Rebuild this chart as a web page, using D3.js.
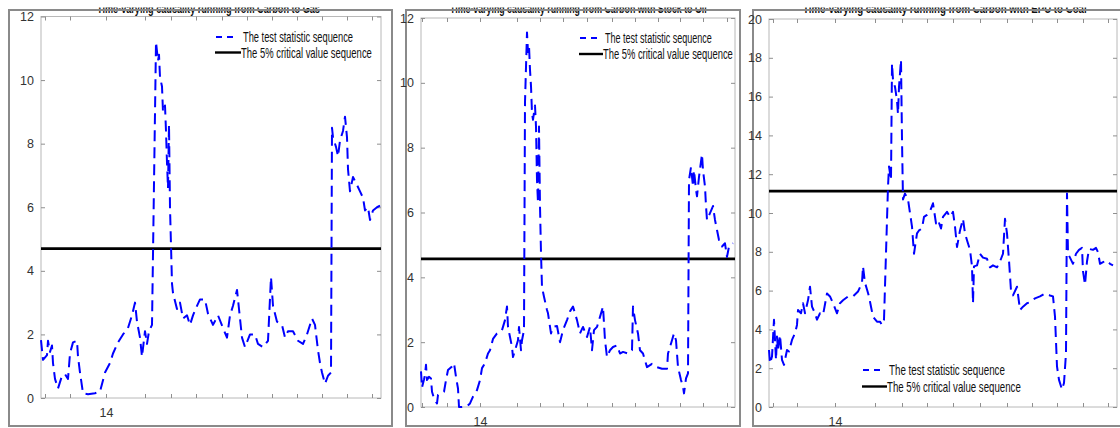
<!DOCTYPE html>
<html>
<head>
<meta charset="utf-8">
<script src="https://cdn.jsdelivr.net/npm/d3@7"></script>
<style>
  body { margin: 0; background: #fff; }
  svg { display: block; }
  text { font-family: "Liberation Sans Narrow", "Arial Narrow", "Liberation Sans", Arial, sans-serif; }
</style>
</head>
<body>
<svg id="chart" width="1120" height="428"></svg>
<script>
// ---- Test statistic sequences: [observation, statistic] ----
const statCarbonGas = [
  [0,1.82],[2,1.2],[6,1.35],[7,1.8],[9,1.45],[11,1.65],[12,1.1],[14,0.6],[17,0.3],[21,0.7],
  [24,0.75],[27,0.6],[29,1.4],[32,1.75],[36,1.8],[37,1.3],[39,0.8],[42,0.15],[47,0.12],[54,0.15],
  [59,0.2],[64,0.8],[69,1.1],[72,1.4],[77,1.75],[82,2.0],[87,2.2],[91,2.6],[94,3.0],[96,2.4],
  [99,1.9],[101,1.3],[104,2.1],[106,1.7],[108,2.1],[111,2.3],[115,11.2],[117,10.6],[118,10.8],[119,10.1],
  [121,9.8],[122,9.0],[124,9.2],[125,8.4],[126,7.4],[127,6.6],[128,8.6],[129,6.0],[131,3.6],[132,3.3],
  [136,2.8],[139,3.0],[142,2.5],[146,2.6],[149,2.3],[152,2.6],[156,2.9],[159,3.1],[164,3.1],[167,2.65],
  [172,2.3],[177,2.6],[182,2.2],[186,1.9],[189,2.6],[192,2.9],[196,3.4],[198,2.8],[201,1.9],[204,1.6],
  [209,2.0],[214,2.0],[217,1.7],[222,1.6],[227,1.8],[230,3.8],[232,2.9],[236,2.4],[241,2.3],[244,1.9],
  [247,2.1],[252,2.1],[257,1.8],[262,1.7],[266,2.0],[271,2.5],[274,2.3],[277,1.5],[279,1.1],[281,0.8],
  [284,0.45],[287,0.7],[290,0.8],[291,8.5],[292,8.2],[295,7.9],[297,7.6],[299,8.1],[302,8.4],[304,8.85],
  [306,8.2],[307,7.2],[309,6.5],[312,6.95],[316,6.7],[319,6.5],[322,6.3],[324,5.9],[327,6.0],[329,5.6],
  [332,5.9],[336,6.0],[339,6.05]
];
const statCarbonOil = [
  [0,1.1],[1,0.6],[3,0.85],[4,1.0],[5,1.3],[6,0.83],[8,0.93],[10,0.88],[11,0.47],[13,0.27],
  [16,0.11],[17,0.37],[21,0.42],[23,0.47],[25,0.83],[27,1.14],[31,1.25],[33,1.35],[35,0.93],[37,0.57],
  [38,0.0],[41,0.0],[46,0.02],[49,0.11],[52,0.32],[56,0.52],[59,0.83],[61,1.2],[64,1.35],[67,1.65],
  [69,1.75],[72,2.1],[76,2.27],[79,2.32],[81,2.37],[84,2.68],[86,3.1],[87,2.47],[89,2.16],[91,1.85],
  [92,1.54],[95,1.85],[97,2.06],[98,2.47],[100,1.75],[101,2.06],[103,2.37],[104,9.4],[106,11.55],[107,10.95],
  [108,11.15],[109,10.4],[110,9.9],[111,9.07],[112,8.86],[114,9.3],[115,8.65],[116,7.0],[117,6.3],[118,8.65],
  [119,6.2],[120,4.74],[121,3.7],[123,3.4],[126,2.99],[127,2.89],[130,2.27],[132,2.47],[136,2.5],[139,2.0],
  [142,2.37],[146,2.68],[149,2.95],[152,3.1],[156,2.68],[159,2.27],[162,2.47],[166,2.16],[169,2.47],[171,1.75],
  [173,2.37],[176,2.47],[179,2.78],[182,3.1],[184,2.06],[186,1.54],[189,1.75],[192,1.85],[196,1.9],[199,1.65],
  [202,1.7],[207,1.65],[211,1.75],[212,3.1],[214,2.68],[217,2.27],[219,1.75],[222,1.65],[226,1.23],[231,1.33],
  [236,1.23],[241,1.18],[246,1.18],[247,1.65],[251,2.06],[253,2.27],[255,2.06],[257,1.23],[260,0.83],[262,0.63],
  [263,0.42],[265,0.88],[267,1.04],[268,7.0],[270,7.4],[272,6.8],[273,7.3],[275,6.7],[276,6.5],[278,7.1],
  [281,7.8],[282,7.3],[284,6.8],[285,6.2],[286,5.77],[289,5.98],[292,6.2],[294,5.77],[296,5.46],[298,5.15],
  [301,4.95],[304,5.05],[306,4.63],[308,4.95],[312,5.05]
];
const statCarbonCoal = [
  [0,2.94],[1,2.25],[3,2.6],[5,4.5],[7,2.43],[8,3.63],[9,2.94],[11,3.71],[13,2.43],[15,2.17],
  [18,2.94],[20,2.86],[23,3.46],[26,3.8],[28,4.23],[29,5.0],[32,4.83],[34,5.35],[36,4.83],[39,5.5],
  [41,6.2],[43,5.17],[46,4.83],[48,4.5],[51,4.83],[54,4.74],[58,5.85],[61,5.7],[64,5.35],[68,4.83],
  [71,5.35],[74,5.5],[79,5.7],[84,5.7],[89,5.95],[93,6.4],[94,7.25],[96,6.4],[98,6.06],[100,5.7],
  [102,5.17],[104,4.66],[108,4.4],[111,4.4],[113,4.23],[115,4.5],[119,11.36],[120,12.4],[122,11.7],[123,17.7],
  [124,16.86],[126,16.5],[128,15.8],[129,15.1],[130,16.5],[132,17.9],[133,13.8],[134,10.7],[136,11.0],[139,10.7],
  [141,10.0],[143,9.3],[145,7.9],[148,8.95],[150,9.1],[153,9.2],[155,9.8],[158,9.9],[161,10.1],[164,10.5],
  [167,9.46],[169,9.64],[172,9.2],[174,9.8],[178,10.06],[181,9.8],[184,10.06],[186,9.3],[188,8.25],[191,9.1],
  [194,9.7],[196,8.95],[198,8.6],[201,8.1],[203,7.25],[204,5.35],[205,7.25],[208,7.3],[211,7.9],[214,7.7],
  [218,7.64],[221,7.2],[224,7.3],[228,7.2],[231,7.5],[234,7.9],[236,9.7],[238,8.95],[240,7.55],[242,6.0],
  [244,5.75],[248,6.2],[251,5.0],[254,5.17],[258,5.35],[261,5.4],[266,5.6],[271,5.7],[276,5.85],[281,5.75],
  [284,5.7],[286,4.66],[288,2.09],[290,1.4],[293,0.9],[295,1.24],[297,2.77],[298,11.0],[299,7.9],[301,7.7],
  [304,7.38],[307,7.9],[310,8.1],[313,8.2],[314,7.0],[316,6.3],[318,7.5],[320,8.15],[324,8.1],[327,8.2],
  [329,7.98],[331,7.38],[334,7.47],[338,7.55],[341,7.38],[344,7.3]
];

// ---- 5% critical values (constant over the sample) ----
const criticalValues = [4.7, 4.57, 11.13];

// ---- Axis ranges and ticks ----
const obsRanges = [[0, 340], [0, 314], [0, 348]];
const statMax = [12, 12, 20];
const yTicks12 = [0, 2, 4, 6, 8, 10, 12];
const yTicks20 = [0, 2, 4, 6, 8, 10, 12, 14, 16, 18, 20];
const xTicksGas  = [4, 29, 65, 104, 130, 155, 181, 206, 231, 256, 281, 306, 331];
const xTicksOil  = [1, 26, 59, 96, 119, 142, 166, 191, 214, 237, 259, 282, 306];
const xTicksCoal = [4, 28, 66, 106, 133, 158, 184, 211, 238, 263, 288, 314, 339];
const xTickLabel = "14";
const xLabelledIndex = 2;

const titles = [
  "Time-varying causality running from Carbon to Gas",
  "Time-varying causality running from Carbon with Stock to Oil",
  "Time-varying causality running from Carbon with EPU to Coal"
];
const legendLabels = ["The test statistic sequence", "The 5% critical value sequence"];

// ---- Panel geometry ----
const panels = [
  { stat: statCarbonGas,  yTicks: yTicks12, xTicks: xTicksGas,
    frame: {x0: 9, x1: 392, y0: 10, y1: 426}, plot: {l: 41, r: 381, t: 16.5, b: 398},
    title: {x: 97, w: 223},
    legend: {x: 215, y: 37, gap: 15.5, tx: 243, w: [110, 131]} },
  { stat: statCarbonOil,  yTicks: yTicks12, xTicks: xTicksOil,
    frame: {x0: 406, x1: 740, y0: 10, y1: 426}, plot: {l: 421, r: 735, t: 18, b: 407},
    title: {x: 450, w: 257},
    legend: {x: 579, y: 38, gap: 16, tx: 605, w: [107, 130]} },
  { stat: statCarbonCoal, yTicks: yTicks20, xTicks: xTicksCoal,
    frame: {x0: 753, x1: 1130, y0: 10, y1: 426}, plot: {l: 769, r: 1117, t: 19, b: 407},
    title: {x: 803, w: 284},
    legend: {x: 862, y: 370, gap: 16.5, tx: 889, w: [116, 134]} }
];

const svg = d3.select("#chart");
const defs = svg.append("defs");

// place a text at (x, y) and squeeze it horizontally to the given width
function fitText(sel, x, y, w) {
  const natural = sel.node().getComputedTextLength();
  sel.attr("x", 0).attr("y", 0)
     .attr("transform", `translate(${x},${y}) scale(${w / natural},1)`);
  return sel;
}

panels.forEach((p, i) => {
  const g = svg.append("g");
  const f = p.frame;

  // title strip: only its lower edge shows inside the figure window
  defs.append("clipPath").attr("id", "tclip" + i)
    .append("rect").attr("x", f.x0).attr("y", 7.5).attr("width", f.x1 - f.x0).attr("height", 10);
  const tg = g.append("g").attr("clip-path", `url(#tclip${i})`);
  const tt = tg.append("text")
    .attr("font-size", 12).attr("font-weight", "bold")
    .attr("fill", "#111")
    .text(titles[i]);
  fitText(tt, p.title.x, 12.5, p.title.w);

  // outer frame
  g.append("rect")
    .attr("x", f.x0).attr("y", f.y0)
    .attr("width", f.x1 - f.x0).attr("height", f.y1 - f.y0)
    .attr("fill", "none").attr("stroke", "#8a8a8a").attr("stroke-width", 2);

  const x = d3.scaleLinear().domain(obsRanges[i]).range([p.plot.l, p.plot.r]);
  const y = d3.scaleLinear().domain([0, statMax[i]]).range([p.plot.b, p.plot.t]);

  // axes box
  g.append("rect")
    .attr("x", p.plot.l).attr("y", p.plot.t)
    .attr("width", p.plot.r - p.plot.l).attr("height", p.plot.b - p.plot.t)
    .attr("fill", "none").attr("stroke", "#b8b8b8").attr("stroke-width", 1);

  const tickLen = 4;
  const styleAxis = sel => {
    sel.select(".domain").remove();
    sel.selectAll("line").attr("stroke", "#8f8f8f");
    sel.selectAll("text").attr("fill", "#333").attr("font-size", 12.5);
  };

  // y axes: labelled on the left, ticks mirrored on the right
  g.append("g").attr("transform", `translate(${p.plot.l},0)`)
    .call(d3.axisLeft(y).tickValues(p.yTicks).tickFormat(d3.format("d")).tickSize(-tickLen).tickPadding(7))
    .call(styleAxis);
  g.append("g").attr("transform", `translate(${p.plot.r},0)`)
    .call(d3.axisRight(y).tickValues(p.yTicks).tickFormat("").tickSize(-tickLen))
    .call(styleAxis);

  // x axes: one labelled tick, ticks mirrored on top
  g.append("g").attr("transform", `translate(0,${p.plot.b})`)
    .call(d3.axisBottom(x).tickValues(p.xTicks)
      .tickFormat((d, k) => k === xLabelledIndex ? xTickLabel : "")
      .tickSize(-tickLen).tickPadding(10))
    .call(styleAxis);
  g.append("g").attr("transform", `translate(0,${p.plot.t})`)
    .call(d3.axisTop(x).tickValues(p.xTicks).tickFormat("").tickSize(-tickLen))
    .call(styleAxis);

  // critical value line
  g.append("line")
    .attr("x1", x(obsRanges[i][0])).attr("x2", x(obsRanges[i][1]))
    .attr("y1", y(criticalValues[i])).attr("y2", y(criticalValues[i]))
    .attr("stroke", "#000").attr("stroke-width", 2.6);

  // test statistic sequence
  const line = d3.line().x(d => x(d[0])).y(d => y(d[1]));
  g.append("path")
    .datum(p.stat)
    .attr("d", line)
    .attr("fill", "none")
    .attr("stroke", "#0000ff")
    .attr("stroke-width", 2)
    .attr("stroke-dasharray", "11,6")
    .attr("stroke-linejoin", "round");

  // legend
  const L = p.legend;
  const lg = g.append("g");
  lg.append("line")
    .attr("x1", L.x + 1).attr("x2", L.x + 19).attr("y1", L.y).attr("y2", L.y)
    .attr("stroke", "#0000ff").attr("stroke-width", 2).attr("stroke-dasharray", "6,5");
  lg.append("line")
    .attr("x1", L.x).attr("x2", L.tx - 2).attr("y1", L.y + L.gap).attr("y2", L.y + L.gap)
    .attr("stroke", "#000").attr("stroke-width", 2.4);
  legendLabels.forEach((t, k) => {
    const lt = lg.append("text")
      .attr("font-size", 14).attr("fill", "#111")
      .text(t);
    fitText(lt, k === 0 ? L.tx : L.tx - 2, L.y + k * L.gap + 5, L.w[k]);
  });
});
</script>
</body>
</html>
